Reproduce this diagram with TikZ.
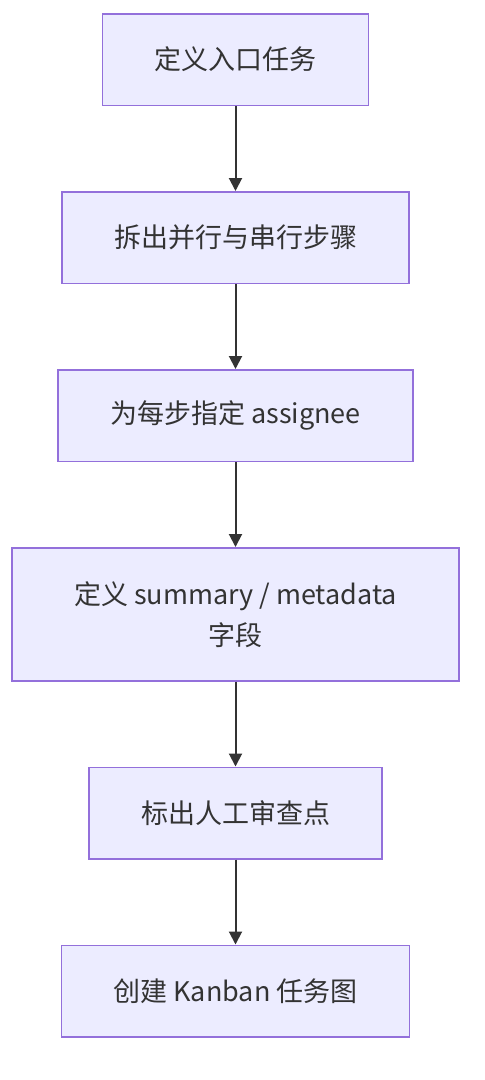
\documentclass[tikz,border=0pt]{standalone}
\usepackage{fontspec}
\setmainfont{Noto Sans CJK SC}
\usetikzlibrary{positioning,arrows.meta}
\definecolor{boxfill}{HTML}{ECECFF}
\definecolor{boxline}{HTML}{9370DB}
\definecolor{inkgray}{HTML}{333333}
\tikzset{
  stepnode/.style = {shape=rectangle, draw=boxline, fill=boxfill,
                     line width=1.5pt, align=center, text=inkgray,
                     minimum height=91.5pt, inner xsep=52pt,
                     font=\fontsize{27}{41}\selectfont},
  tallnode/.style = {stepnode, minimum height=133pt, inner xsep=62pt},
  flow/.style     = {draw=inkgray, line width=2pt,
                     -{Triangle[length=13pt,width=13pt]}}
}
\begin{document}
\begin{tikzpicture}[node distance=85pt]
  \useasboundingbox (0,0) rectangle (485pt,-1080pt);
  \node [stepnode] (entry) at (235.5pt,-59.5pt) {定义入口任务};
  \node [stepnode, below=of entry]  (split)  {拆出并行与串行步骤};
  \node [stepnode, below=of split]  (assign) {为每步指定 assignee};
  \node [tallnode, below=of assign] (fields) {定义 summary / metadata\\字段};
  \node [stepnode, below=of fields] (review) {标出人工审查点};
  \node [stepnode, below=of review] (kanban) {创建 Kanban 任务图};

  \draw [flow] (entry)  -- (split);
  \draw [flow] (split)  -- (assign);
  \draw [flow] (assign) -- (fields);
  \draw [flow] (fields) -- (review);
  \draw [flow] (review) -- (kanban);
\end{tikzpicture}
\end{document}
